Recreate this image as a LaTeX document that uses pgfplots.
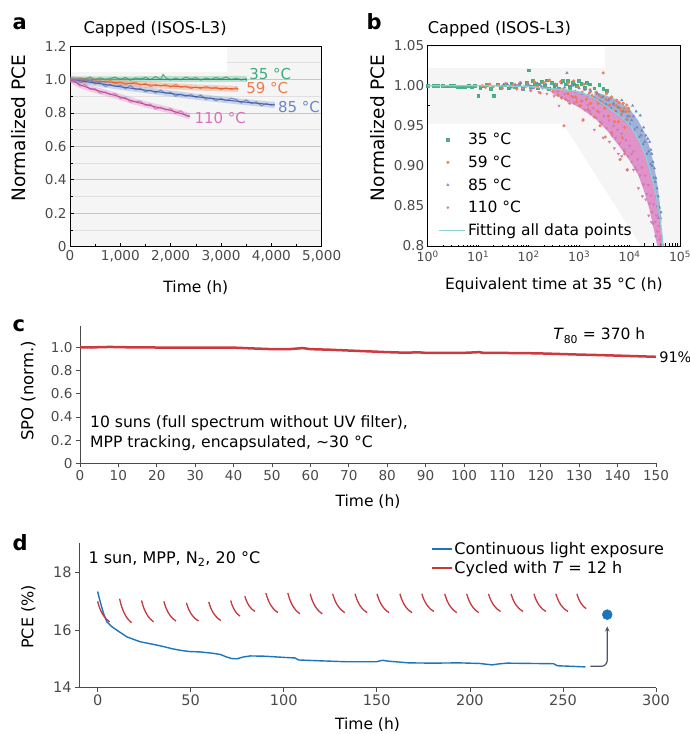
\documentclass[border=0pt]{standalone}
\usepackage{fontspec}
\setmainfont{DejaVu Sans}
\usepackage{pgfplots}
\pgfplotsset{compat=1.18}
\usetikzlibrary{arrows.meta}
\newcommand{\fs}[2]{\fontsize{#1bp}{#2bp}\selectfont}

\definecolor{bgA}{HTML}{F5F5F5}
\definecolor{cG}{HTML}{3DAA7D}
\definecolor{cO}{HTML}{F07A4A}
\definecolor{cB}{HTML}{6A86C6}
\definecolor{cP}{HTML}{D873BA}
\definecolor{cGd}{HTML}{2E9466}
\definecolor{cOd}{HTML}{E5622F}
\definecolor{cBd}{HTML}{4662AE}
\definecolor{cPd}{HTML}{BC4F9C}
\definecolor{cFit}{HTML}{8ECFCF}
\definecolor{cRedC}{HTML}{CC3A40}
\definecolor{cBlueD}{HTML}{1B75BC}
\definecolor{cRedD}{HTML}{C7383D}
\definecolor{cArrow}{HTML}{4A5670}
\definecolor{cTick}{HTML}{4A4A4A}

\pgfplotsset{
  every axis/.append style={
    scale only axis, anchor=south west,
    /pgf/number format/assume math mode=true,
    tick label style={text=cTick},
    major tick length=4bp, minor tick length=2.5bp,
  },
  boxed/.style={axis line style={black, line width=0.9bp}, tick style={black, line width=0.6bp},
    tick align=inside, xtick pos=bottom, ytick pos=left, axis background/.style={fill=bgA}},
  open/.style={axis x line=bottom, axis y line=left, axis line style={-, cTick, line width=0.8bp},
    tick style={cTick, line width=0.7bp}, tick align=outside},
  mk/.style={only marks, mark size=1.4bp, opacity=0.9,
    legend image code/.code={\draw[##1] plot coordinates {(9bp,0bp)};}},
}

\begin{document}
\begin{tikzpicture}
\useasboundingbox (0,0) rectangle (690bp,734bp);

% panel letters and titles
\node[anchor=base west, inner sep=0, font=\bfseries\fs{21}{24}] at (12.5bp,704.7bp) {a};
\node[anchor=base west, inner sep=0, font=\bfseries\fs{21}{24}] at (366.5bp,704.7bp) {b};
\node[anchor=base west, inner sep=0, font=\bfseries\fs{21}{24}] at (12.5bp,402.3bp) {c};
\node[anchor=base west, inner sep=0, font=\bfseries\fs{21}{24}] at (12.5bp,183bp) {d};
\node[anchor=base west, inner sep=0, font=\fs{16.2}{19}] at (83.3bp,700bp) {Capped (ISOS-L3)};
\node[anchor=base west, inner sep=0, font=\fs{16.2}{19}] at (427.7bp,700bp) {Capped (ISOS-L3)};

% ---------------- a ----------------
\begin{axis}[boxed, at={(70bp,487.3bp)}, width=251.7bp, height=200.7bp,
  xmin=0, xmax=5000, ymin=0, ymax=1.2,
  xtick={0,1000,2000,3000,4000,5000}, xticklabels={0,{1,000},{2,000},{3,000},{4,000},{5,000}},
  ytick={0,0.2,0.4,0.6,0.8,1.0,1.2}, yticklabels={0,0.2,0.4,0.6,0.8,1.0,1.2},
  minor x tick num=1, minor y tick num=1,
  ymajorgrids, yminorgrids,
  major grid style={black!22, line width=0.6bp}, minor grid style={black!12, line width=0.5bp},
  tick label style={font=\fs{13.6}{16}},
  xlabel={Time (h)}, ylabel={Normalized PCE},
  xlabel style={font=\fs{15.5}{19}, at={(axis description cs:0.5,0)}, anchor=center, yshift=-41bp},
  ylabel style={font=\fs{18.5}{22}, at={(axis description cs:-0.2026,0.59)}, anchor=center},
  clip mode=individual]
\fill[white] (axis cs:20,1.047) rectangle (axis cs:3120,1.194);
% 35 C
\addplot[no marks, color=cG, line width=6bp, opacity=0.3] coordinates {(0,1.0) (3510,1.003)};
\addplot[no marks, color=cG, line width=1.1bp, opacity=0.85] coordinates {
(0,1.0)(100,0.996)(200,1.008)(300,1.003)(400,1.015)(500,0.998)(600,1.010)(700,0.997)(800,1.007)(900,1.014)
(1000,1.000)(1100,1.012)(1200,0.995)(1300,1.009)(1400,1.002)(1500,1.013)(1600,0.999)(1700,1.017)(1800,1.001)
(1850,1.03)(1900,1.010)(2000,0.997)(2100,1.008)(2200,0.998)(2300,1.014)(2400,1.003)(2500,1.011)(2600,0.996)
(2700,1.009)(2800,1.000)(2900,1.012)(3000,1.002)(3100,1.015)(3200,0.999)(3300,1.007)(3400,0.997)(3500,1.004)(3510,0.99)};
\addplot[no marks, color=cGd, line width=1bp] coordinates {(0,1.002) (3510,1.0)};
% 59 C
\addplot[no marks, color=cO, line width=6bp, opacity=0.3] coordinates {(0,1.0)(500,0.99)(1000,0.98)(1600,0.967)(2500,0.952)(3340,0.943)};
\addplot[no marks, color=cO, line width=1.1bp, opacity=0.85] coordinates {
(0,1.000)(100,0.992)(200,1.007)(300,0.990)(400,0.998)(500,0.981)(600,0.991)(700,0.984)(800,0.994)(900,0.975)
(1000,0.985)(1100,0.970)(1200,0.978)(1300,0.983)(1400,0.966)(1500,0.976)(1600,0.957)(1700,0.969)(1800,0.961)
(1900,0.970)(2000,0.954)(2100,0.971)(2200,0.953)(2300,0.960)(2400,0.946)(2500,0.955)(2600,0.944)(2700,0.959)
(2800,0.947)(2900,0.954)(3000,0.938)(3100,0.950)(3200,0.939)(3300,0.950)(3340,0.940)};
\addplot[no marks, color=cOd, line width=1bp] coordinates {(0,1.0)(500,0.99)(1000,0.98)(1600,0.967)(2500,0.952)(3340,0.943)};
% 85 C
\addplot[no marks, color=cB, line width=6bp, opacity=0.3] coordinates {(0,1.0)(500,0.979)(1000,0.956)(1500,0.936)(2000,0.916)(2500,0.897)(3000,0.880)(3500,0.864)(4066,0.847)};
\addplot[no marks, color=cB, line width=1.1bp, opacity=0.85] coordinates {
(0,1.000)(100,1.002)(200,0.981)(300,0.990)(400,0.995)(500,0.973)(600,0.984)(700,0.957)(800,0.970)(900,0.957)
(1000,0.966)(1100,0.944)(1200,0.964)(1300,0.939)(1400,0.947)(1500,0.926)(1600,0.936)(1700,0.919)(1800,0.936)
(1900,0.917)(2000,0.924)(2100,0.900)(2200,0.913)(2300,0.899)(2400,0.910)(2500,0.893)(2600,0.907)(2700,0.882)
(2800,0.890)(2900,0.873)(3000,0.887)(3100,0.872)(3200,0.888)(3300,0.880)(3400,0.859)(3500,0.878)(3600,0.856)
(3700,0.866)(3800,0.843)(3900,0.856)(4000,0.846)(4066,0.852)};
\addplot[no marks, color=cBd, line width=1bp] coordinates {(0,1.0)(500,0.979)(1000,0.956)(1500,0.936)(2000,0.916)(2500,0.897)(3000,0.880)(3500,0.864)(4066,0.847)};
% 110 C
\addplot[no marks, color=cP, line width=6bp, opacity=0.3] coordinates {(0,1.0)(200,0.968)(400,0.946)(700,0.921)(1000,0.895)(1300,0.866)(1600,0.843)(2000,0.815)(2380,0.780)};
\addplot[no marks, color=cP, line width=1.1bp, opacity=0.85] coordinates {
(0,1.000)(100,0.990)(200,0.960)(300,0.969)(400,0.941)(500,0.945)(600,0.917)(700,0.925)(800,0.909)(900,0.916)
(1000,0.886)(1100,0.892)(1200,0.865)(1300,0.869)(1400,0.870)(1500,0.845)(1600,0.852)(1700,0.823)(1800,0.834)
(1900,0.818)(2000,0.825)(2100,0.798)(2200,0.813)(2300,0.783)(2380,0.776)};
\addplot[no marks, color=cPd, line width=1bp] coordinates {(0,1.0)(200,0.968)(400,0.946)(700,0.921)(1000,0.895)(1300,0.866)(1600,0.843)(2000,0.815)(2380,0.780)};
\node[anchor=west, inner sep=0, text=cG, font=\fs{15}{18}] at (axis cs:3560,1.033) {35 °C};
\node[anchor=west, inner sep=0, text=cO, font=\fs{15}{18}] at (axis cs:3500,0.949) {59 °C};
\node[anchor=west, inner sep=0, text=cB, font=\fs{15}{18}] at (axis cs:4130,0.835) {85 °C};
\node[anchor=west, inner sep=0, text=cP, font=\fs{15}{18}] at (axis cs:2470,0.770) {110 °C};
\end{axis}

% ---------------- b ----------------
\begin{axis}[boxed, at={(427.7bp,488bp)}, width=252.3bp, height=200.3bp,
  xmode=log, xmin=1, xmax=100000, ymin=0.8, ymax=1.05,
  xtick={1,10,100,1000,10000,100000},
  xticklabels={10\textsuperscript{0},10\textsuperscript{1},10\textsuperscript{2},10\textsuperscript{3},10\textsuperscript{4},10\textsuperscript{5}},
  ytick={0.8,0.85,0.9,0.95,1.0,1.05}, yticklabels={0.8,0.85,0.90,0.95,1.00,1.05},
  minor y tick num=1,
  yticklabel style={font=\fs{13.6}{16}},
  xticklabel style={font=\fs{12.5}{15}, yshift=-1.5bp},
  xlabel={Equivalent time at 35 °C (h)}, ylabel={Normalized PCE},
  xlabel style={font=\fs{15.5}{19}, at={(axis description cs:0.5,0)}, anchor=center, yshift=-39bp},
  ylabel style={font=\fs{18.5}{22}, at={(axis description cs:-0.198,0.59)}, anchor=center},
  clip mode=individual,
  legend cell align=left,
  legend style={at={(axis description cs:0.029,0.586)}, anchor=north west, draw=none, fill=none,
    font=\fs{15.5}{18}, row sep=4.6bp, nodes={inner sep=2.5bp}}]
\fill[white] (axis cs:1.02,1.022) rectangle (axis cs:3200,1.0485);
\fill[white] (axis cs:1.02,0.9523) -- (axis cs:481,0.9523) -- (axis cs:16100,0.8015) -- (axis cs:1.02,0.8015) -- cycle;
% dense clouds (band areas)
\addplot[fill=cB, draw=none, fill opacity=0.6, forget plot] coordinates {
(2000,0.993)(5000,0.984)(10000,0.971)(15000,0.956)(20000,0.941)(25000,0.923)(30000,0.903)(35000,0.880)(40000,0.852)(43000,0.830)
(40000,0.826)(35000,0.853)(30000,0.876)(25000,0.896)(20000,0.916)(15000,0.935)(10000,0.951)(5000,0.967)(2000,0.982)} -- cycle;
\addplot[fill=cP, draw=none, fill opacity=0.75, forget plot] coordinates {
(300,0.998)(1000,0.993)(2000,0.986)(3500,0.977)(6000,0.963)(10000,0.952)(15000,0.933)(20000,0.915)(25000,0.898)
(30000,0.878)(35000,0.857)(40000,0.834)(45000,0.808)(47000,0.798)
(36000,0.798)(30000,0.822)(25000,0.845)(20000,0.866)(15000,0.888)(10000,0.907)(6000,0.926)(3500,0.945)
(2000,0.960)(1000,0.973)(500,0.983)(300,0.990)} -- cycle;
\addplot[mk, color=cG, mark=square*] coordinates {
(1,1.000)(1.3,1.000)(1.6,1.000)(2,1.000)(2.4,0.9995)(2.8,1.000)(3.3,1.0005)(4,0.999)(4.6,0.999)(5.5,0.9985)
(6.5,1.000)(7.5,0.999)(8.5,1.0005)(10,0.988)(11,0.998)(13,0.9995)(15,1.001)(18,0.996)(20,0.988)(24,1.002)
(28,0.998)(33,1.0015)(40,0.997)(45,1.003)(55,0.999)(65,1.002)(75,0.996)(90,1.004)(100,1.0195)(110,0.999)
(130,1.003)(150,0.997)(180,1.005)(210,1.000)(250,0.996)(290,1.004)(340,1.001)(400,0.997)(470,1.006)(550,1.002)
(650,0.999)(750,1.004)(900,1.000)(1100,1.003)(1300,0.998)(1600,1.002)(2000,0.997)(2500,1.001)(3000,0.996)(3500,0.994)
(120,1.006)(160,1.002)(230,1.007)(320,0.999)(600,1.006)(800,1.002)(1000,1.006)(1400,1.004)};
\addlegendentry{35 °C}
\addplot[mk, color=cO, mark=*] coordinates {
(12,1.000)(14,0.998)(17,1.002)(20,0.999)(25,1.001)(30,0.997)(35,1.003)(42,0.999)(50,1.002)(58,0.996)
(68,1.004)(80,0.998)(95,1.003)(110,0.994)(130,1.005)(150,0.999)(170,0.991)(200,1.004)(230,0.997)(260,1.007)
(300,0.993)(340,1.002)(380,0.988)(430,1.005)(480,0.996)(540,0.983)(600,1.003)(650,0.978)(700,0.994)(780,1.006)
(850,0.986)(950,0.999)(1050,0.975)(1150,0.992)(1250,1.002)(1400,0.983)(1500,0.970)(1650,0.995)(1800,0.988)
(2000,0.961)(2200,0.992)(2400,0.978)(2600,0.950)(2800,0.986)(3000,1.016)(3200,0.972)(3500,0.990)(3800,0.962)
(4100,0.984)(4500,0.941)(4800,0.976)(5200,0.968)(5600,0.982)(6000,0.955)(6500,0.972)(7000,0.965)(7500,0.978)
(8000,0.948)(8500,0.968)(9000,0.958)(9500,0.972)(10000,0.962)(500,0.950)(1200,0.957)(3300,0.936)(6500,0.908)
(9000,0.895)(8000,0.915)(450,0.985)(900,0.980)(2300,0.968)(5000,0.955)(7200,0.935)
(1300,0.996)(1600,0.991)(1900,0.985)(2500,0.988)(2900,0.979)(3400,0.983)(4000,0.976)(4400,0.986)(5500,0.975)
(6200,0.979)(6800,0.969)(7800,0.972)(8800,0.976)(9800,0.968)(600,0.990)(750,0.986)(1100,0.981)(1700,0.978)};
\addlegendentry{59 °C}
\addplot[mk, color=cB, mark=triangle*] coordinates {
(30,1.000)(38,1.002)(45,0.998)(55,1.001)(70,1.003)(85,0.999)(100,1.001)(120,0.997)(150,1.003)(180,0.999)
(220,1.002)(270,0.997)(320,1.001)(380,0.996)(450,1.003)(520,0.998)(575,1.016)(650,0.995)(750,1.000)(850,0.993)
(1000,0.997)(1150,0.990)(1300,0.995)(1500,0.988)(1700,0.993)(2000,0.985)(2300,0.990)(2600,0.981)(3000,0.986)
(3400,0.977)(3800,0.982)(4300,0.972)(4800,0.978)(5400,0.968)(6000,0.973)(6700,0.962)(7500,0.968)(8300,0.957)
(9200,0.962)(10000,0.952)(11000,0.957)(12500,0.945)(14000,0.948)(15500,0.936)(16300,0.963)(17000,0.938)
(18500,0.927)(20000,0.930)(22000,0.915)(24000,0.918)(25000,0.930)(26000,0.902)(28000,0.900)(30000,0.885)
(32000,0.880)(34000,0.862)(36000,0.850)(38000,0.835)(11500,0.975)(13500,0.968)(19000,0.948)(23000,0.934)
(27500,0.915)(31000,0.897)(33000,0.885)(37000,0.862)(39000,0.848)(41000,0.835)(7000,0.982)
(12000,0.962)(17500,0.944)(21000,0.938)(26500,0.920)(29000,0.905)(35000,0.872)(42000,0.842)};
\addlegendentry{85 °C}
\addplot[mk, color=cP, mark=triangle*, mark options={rotate=180}] coordinates {
(50,0.998)(60,1.001)(75,0.996)(90,1.000)(110,0.994)(130,0.998)(160,0.992)(190,0.997)(230,0.990)(270,0.995)
(320,0.987)(380,0.993)(450,0.985)(520,0.990)(600,0.981)(700,0.987)(800,0.978)(900,0.984)(1000,0.975)(1150,0.981)
(1300,0.970)(1500,0.976)(1700,0.965)(1900,0.972)(2200,0.960)(2500,0.967)(2800,0.953)(3100,0.962)(3500,0.947)
(3900,0.957)(4300,0.942)(4800,0.950)(5300,0.935)(5800,0.945)(6400,0.928)(7000,0.940)(7700,0.920)(8500,0.932)
(9300,0.912)(10000,0.925)(11000,0.905)(12000,0.918)(13000,0.898)(14500,0.908)(16000,0.888)(17500,0.898)
(19000,0.877)(20500,0.888)(22000,0.865)(23500,0.876)(25000,0.853)(26500,0.863)(28000,0.842)(30000,0.852)
(32000,0.830)(34000,0.838)(36000,0.818)(38000,0.825)(40000,0.808)(42000,0.812)(44000,0.802)(46000,0.801)
(3000,0.935)(6000,0.915)(9000,0.895)(400,0.975)(1200,0.958)(15000,0.872)(27000,0.830)
(2000,0.945)(4000,0.930)(7000,0.912)(12000,0.895)(18000,0.862)(24000,0.838)(33000,0.812)(5000,0.922)
(1600,0.968)(2600,0.955)(4500,0.938)(8000,0.918)(11000,0.915)(14000,0.895)(21000,0.858)(29000,0.828)};
\addlegendentry{110 °C}
\addplot[no marks, color=cFit, line width=1.3bp, smooth,
  legend image code/.code={\draw[color=cFit, line width=1.3bp] (0bp,0bp) -- (26bp,0bp);}] coordinates {
(1,1.0)(10,1.0)(50,0.9995)(100,0.999)(200,0.997)(500,0.995)(1000,0.992)(2000,0.984)(4800,0.968)
(10000,0.951)(18800,0.920)(29700,0.878)(39600,0.837)(46000,0.800)};
\addlegendentry{Fitting all data points}
\end{axis}

% ---------------- c ----------------
\begin{axis}[open, at={(80bp,270.7bp)}, width=576bp, height=137.6bp,
  xmin=0, xmax=150, ymin=0, ymax=1.186,
  xtick={0,10,...,150}, ytick={0,0.2,0.4,0.6,0.8,1.0}, yticklabels={0,0.2,0.4,0.6,0.8,1.0},
  tick label style={font=\fs{13.6}{16}},
  xlabel={Time (h)}, ylabel={SPO (norm.)},
  xlabel style={font=\fs{15.5}{19}, at={(axis description cs:0.5,0)}, anchor=center, yshift=-38.4bp},
  ylabel style={font=\fs{16.5}{20}, at={(axis description cs:-0.0898,0.527)}, anchor=center},
  clip=false]
\addplot[no marks, color=cRedC, line width=2.5bp] coordinates {
(0,1.000)(3,0.998)(5,1.001)(8,1.003)(10,1.001)(15,0.999)(20,0.998)(25,0.997)(30,0.996)(35,0.998)(40,0.997)
(45,0.990)(50,0.984)(55,0.985)(58,0.993)(60,0.984)(65,0.979)(70,0.972)(75,0.965)(80,0.958)(85,0.953)
(88,0.957)(90,0.952)(95,0.952)(100,0.952)(104,0.958)(105,0.952)(110,0.951)(115,0.950)(120,0.947)
(125,0.942)(130,0.937)(135,0.933)(140,0.928)(145,0.923)(150,0.918)};
\node[anchor=base west, inner sep=0, font=\fs{15.5}{19}] at (axis cs:123.2,1.063) {\textit{T}\textsubscript{80} = 370 h};
\node[anchor=base west, inner sep=0, font=\fs{14.5}{18}] at (axis cs:150.8,0.867) {91\%};
\node[anchor=base west, inner sep=0, font=\fs{15.6}{19}] at (axis cs:2.6,0.31) {10 suns (full spectrum without UV filter),};
\node[anchor=base west, inner sep=0, font=\fs{15.6}{19}] at (axis cs:2.6,0.138) {MPP tracking, encapsulated, \textasciitilde30 °C};
\end{axis}

% ---------------- d ----------------
\begin{axis}[open, at={(79bp,46.3bp)}, width=577bp, height=144.4bp,
  xmin=-10, xmax=300, ymin=14, ymax=19,
  xtick={0,50,...,300}, ytick={14,16,18},
  tick label style={font=\fs{14.5}{17}},
  xlabel={Time (h)}, ylabel={PCE (\%)},
  xlabel style={font=\fs{15.5}{19}, at={(axis description cs:0.5,0)}, anchor=center, yshift=-37bp},
  ylabel style={font=\fs{16}{20}, at={(axis description cs:-0.0879,0.49)}, anchor=center},
  unbounded coords=jump, clip=false,
  legend cell align=left,
  legend style={at={(axis description cs:0.605,1.035)}, anchor=north west, draw=none, fill=none,
    font=\fs{16}{19}, row sep=1bp, nodes={inner sep=2bp}}]
\addplot[no marks, color=cBlueD, line width=1.4bp,
  legend image code/.code={\draw[color=cBlueD, line width=1.7bp] (0bp,0bp) -- (19.4bp,0bp);}] coordinates {
(0,17.33)(1.43,16.97)(3.2,16.57)(5,16.28)(7.7,16.11)(10.4,15.99)(15.7,15.76)(22.9,15.59)(30,15.50)(35,15.43)
(40.7,15.34)(45,15.29)(49.6,15.25)(55,15.24)(62.1,15.19)(66,15.15)(69,15.07)(72,15.01)(75,15.00)(78,15.06)
(82,15.10)(90,15.09)(100,15.05)(106,15.03)(108,14.96)(120,14.93)(133,14.90)(150,14.90)(153,14.95)(156,14.92)
(167,14.86)(180,14.85)(194,14.86)(205,14.84)(212,14.79)(215,14.82)(220,14.85)(245,14.83)(247,14.76)(255,14.74)(262,14.72)};
\addlegendentry{Continuous light exposure}
\addplot[no marks, color=cRedD, line width=1.3bp, smooth,
  legend image code/.code={\draw[color=cRedD, line width=1.3bp] (0bp,0bp) -- (19.4bp,0bp);}] coordinates {
(0,16.99)(1,16.777)(2.5,16.564)(4.5,16.386)(6.5,16.28)(7,nan)
(11.8,17.08)(12.8,16.831)(14.3,16.582)(16.3,16.375)(18.3,16.25)(19,nan)
(23.6,17.02)(24.6,16.798)(26.1,16.576)(28.1,16.391)(30.1,16.28)(31,nan)
(35.6,16.99)(36.6,16.786)(38.1,16.582)(40.1,16.412)(42.1,16.31)(43,nan)
(47.7,16.94)(48.7,16.751)(50.2,16.562)(52.2,16.405)(54.2,16.31)(55,nan)
(59.7,16.97)(60.7,16.778)(62.2,16.586)(64.2,16.426)(66.2,16.33)(67,nan)
(71.5,17.02)(72.3,16.858)(73.5,16.696)(75,16.561)(76.5,16.48)(77,nan)
(79.1,17.17)(79.95,17.011)(81.2,16.852)(82.9,16.72)(84.6,16.64)(85,nan)
(90.4,17.28)(91.4,17.076)(92.9,16.872)(94.9,16.702)(96.9,16.60)(97,nan)
(102.2,17.28)(103.2,17.064)(104.7,16.848)(106.7,16.668)(108.7,16.56)(109,nan)
(114.2,17.25)(115.2,17.043)(116.7,16.836)(118.7,16.664)(120.7,16.56)(121,nan)
(126.3,17.25)(127.3,17.055)(128.8,16.86)(130.8,16.698)(132.8,16.60)(133,nan)
(138.3,17.25)(139.3,17.055)(140.8,16.86)(142.8,16.698)(144.8,16.60)(145,nan)
(150.1,17.25)(151.1,17.055)(152.6,16.86)(154.6,16.698)(156.6,16.60)(157,nan)
(162.4,17.25)(163.4,17.055)(164.9,16.86)(166.9,16.698)(168.9,16.60)(169,nan)
(174.2,17.25)(175.2,17.067)(176.7,16.884)(178.7,16.732)(180.7,16.64)(181,nan)
(186.5,17.25)(187.5,17.055)(189,16.86)(191,16.698)(193,16.60)(194,nan)
(198.3,17.25)(199.3,17.055)(200.8,16.86)(202.8,16.698)(204.8,16.60)(205,nan)
(210,17.25)(211,17.067)(212.5,16.884)(214.5,16.732)(216.5,16.64)(217,nan)
(222.1,17.25)(223.1,17.067)(224.6,16.884)(226.6,16.732)(228.6,16.64)(229,nan)
(234.4,17.25)(235.4,17.067)(236.9,16.884)(238.9,16.732)(240.9,16.64)(241,nan)
(246.2,17.25)(247.2,17.067)(248.7,16.884)(250.7,16.732)(252.7,16.64)(253,nan)
(257.5,17.25)(258.3,17.097)(259.5,16.944)(261,16.816)(262.5,16.74)};
\addlegendentry{Cycled with \textit{T} = 12 h}
\addplot[only marks, mark=*, mark size=5bp, color=cBlueD, forget plot] coordinates {(273.8,16.53)};
\draw[cArrow, line width=1.2bp, rounded corners=6bp, -{Stealth[length=5bp,width=4.5bp]}]
  (axis cs:264.7,14.74) -- (axis cs:273.8,14.74) -- (axis cs:273.8,16.12);
\node[anchor=base west, inner sep=0, font=\fs{16}{19}] at (axis cs:-5,18.29) {1 sun, MPP, N\textsubscript{2}, 20 °C};
\end{axis}
\end{tikzpicture}
\end{document}
